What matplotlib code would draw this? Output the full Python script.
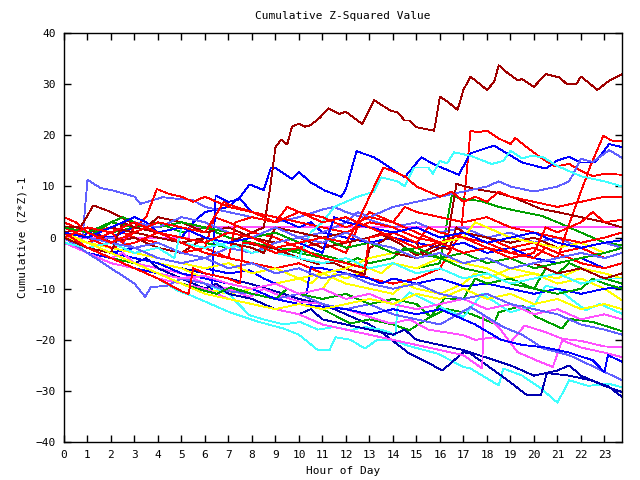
import matplotlib
matplotlib.use("Agg")
import matplotlib.pyplot as plt

# each series: (hour, cumulative value) breakpoints
dkred_1 = [(0,1),(1,2),(2,-1),(3,0),(4,-2),(5,-3),(6,0),(7,-1),(8,1),(8.5,2),(8.75,9),(9,17.7),(9.25,19.2),(9.5,18.2),(9.7,21.7),(10,22.3),(10.25,21.7),(10.5,22),(10.9,23.5),(11.25,25.3),(11.7,24.2),(12,24.6),(12.7,22.2),(13.2,26.9),(13.9,24.8),(14.2,24.5),(14.5,22.9),(14.7,22.9),(15,21.6),(15.75,20.9),(16,27.6),(16.4,26.3),(16.75,25),(17,28.9),(17.3,31.5),(18,28.9),(18.3,30.4),(18.5,33.7),(18.85,32.3),(19.3,30.8),(19.5,31),(20,29.5),(20.5,32),(21.1,31.3),(21.4,30),(21.8,30),(22,31.5),(22.7,28.9),(23.2,30.7),(23.75,32)]
dkred_2 = [(0,2),(0.7,2),(1.25,6.3),(2,5),(2.7,3.3),(3.5,2),(4,4),(5,3),(6,1),(7,2),(8,0),(9,-1),(10,0),(11,-2),(12,-1),(13,0),(13.45,0.7),(14.3,-1.2),(15,-3.5),(15.7,-1.9),(16.3,-0.9),(16.7,10.5),(17.5,9.5),(18.3,8.9),(19.1,7.9),(20.3,5.6),(21,5),(22,4),(23,3),(23.75,2)]
dkred_3 = [(0,1),(1,0),(2,2),(3,1),(4,0),(5,-1),(6,0),(7,-2),(7.9,-1.2),(9,-2.2),(10,-4),(10.75,-5.1),(11.5,-5),(12.2,-6.4),(12.8,-7.1),(13,-2),(13.6,-0.6),(14,1),(15,-1),(15.3,-3.5),(16,-2),(16.4,-2.2),(16.7,2),(17,1),(18,0),(19,-1),(20,0),(21,-2),(22,-1),(23,-3),(23.75,-2)]
dkred_4 = [(0,0),(0.5,-1),(1,-2),(2,-3),(2.5,3),(3,2),(4,1),(5,2),(6,0),(7,-1),(8,-2),(8.5,-3),(9,2),(10,1),(11,0),(12,1),(13,-1),(14,-3),(15,-4),(16,-3),(17,-5),(18,-4),(19,-6),(20,-5),(21,-7),(22,-6),(23,-8),(23.75,-7)]

red_1 = [(0,3),(0.5,2),(1,1),(2,2),(3,0),(4,-1),(5,-3),(6,-2),(7,-4),(8,-5),(9,-6),(10,-5),(11,-7),(12,-6),(13,-8),(14,-9),(15,-8),(16,-6),(16.9,1),(17.3,20.9),(17.6,20.6),(18,20.9),(18.5,19.4),(19,18.3),(19.2,19.5),(19.8,17.3),(20.3,15.6),(20.9,13.9),(21.5,14.4),(22,13.1),(22.5,12),(23,12.5),(23.75,12.3)]
red_2 = [(0,1),(1,-1),(2,0),(3,-2),(4,-1),(5,-3),(6,-2),(6.4,4),(7,3),(8,1),(9,0),(10,-2),(11,-1),(12,-3),(12.6,3),(13,5),(14,3),(15,1),(16,-1),(17,0),(18,-2),(19,-3),(20,-2),(21,-4),(21.6,4),(22,9),(22.4,14),(22.95,19.9),(23.3,19),(23.75,18.8)]
red_3 = [(0,0),(1,-1),(2,1),(2.5,-1),(3,2),(3.5,4),(3.95,9.5),(4.5,8.5),(5,8),(5.5,7),(6,8),(7,6),(8,5),(9,4),(10,3),(11,2),(12,1),(13,3),(14,2),(15,0),(16,-1),(17,1),(18,0),(19,-2),(20,-1),(21,-3),(22,-2),(23,-4),(23.75,-3)]
red_4 = [(0,2),(1,0),(2,-2),(3,-1),(4,1),(5,-1),(6,-3),(7,-4),(7.3,3),(8,4),(9,3),(10,5),(11,4),(12,2),(13,4),(14,3),(14.5,6),(15,5),(16,4),(17,3),(18,4),(19,2),(20,1),(21,0),(22,-1),(23,0),(23.75,1)]
red_5 = [(0,1),(1,-2),(2,-4),(3,-6),(4,-8),(5,-10.5),(5.3,-11),(5.5,-6),(6,-7),(7,-8),(7.5,-9),(7.6,-1),(8,-1),(9,-3),(10,-2),(11,-4),(12,-5),(12.8,-6),(13,0),(14,1),(15,-1),(15.5,2),(16,1),(17,0),(18,-1),(19,-3),(20,-4),(20.5,-2),(21,-3),(22,-5),(23,-6),(23.75,-5)]
red_6 = [(0,4),(0.5,3),(1,1),(2,-1),(3,1),(4,3),(5,2),(6,1),(6.8,7),(7,6.5),(8,5),(9,3),(9.5,6),(10,5),(11,3),(12,4),(13,2),(14,0),(15,-2),(16,-1),(17,-3),(18,-2),(19,-4),(20,-3),(20.5,2),(21,1),(22,3),(22.5,5),(23,3),(23.75,3.5)]
red_7 = [(0,0),(1,2),(2,1),(3,3),(4,1),(5,0),(6,-1),(7,1),(8,0),(9,-2),(10,-1),(11,0),(12,-1),(12.5,3),(13,8),(13.3,11),(13.6,13.7),(14,13),(14.5,12),(15,10),(15.5,9),(16,8),(16.5,9),(17,7),(17.5,8),(18,7),(18.5,9),(19,8),(20,7),(21,6),(22,7),(23,8),(23.75,8)]

green_1 = [(0,0),(1,-1),(2,1),(3,2),(4,3),(5,1),(6,2),(7,0),(8,-1),(9,-2),(10,-3),(11,-4),(12,-5),(13,-6),(14,-5),(15,-6),(16,-5),(16.3,3),(16.5,8.2),(17,7.5),(17.7,7.2),(18.5,6),(19.5,5),(20.3,4.3),(21,3),(22,1),(23,-1),(23.75,-1.5)]
green_2 = [(0,-1),(1,-3),(2,-4),(3,-5),(4,-7),(5,-8),(6,-9),(7,-10),(8,-11),(9,-12),(10,-13),(11,-14),(12.2,-16.8),(13,-16),(14,-17),(14.7,-18.1),(15.6,-15.5),(16.3,-14),(17.3,-14.9),(18.3,-16.8),(18.5,-14.6),(19.5,-13.3),(20.1,-15.5),(21.2,-17.8),(21.5,-15.9),(22.5,-16.5),(23.75,-18.3)]
green_3 = [(0,1),(1,0),(2,3),(3,2),(4,1),(5,0),(6,-1),(7,-2),(8,-1),(9,-2),(10,-2.5),(10.75,-3.2),(11.5,-4),(12,-5),(12.5,-4),(13,-5),(14,-4),(14.5,-2),(15,-3),(16,-4),(17,-6),(18,-7),(19,-9),(20,-10),(20.5,-6),(21,-7),(21.5,-5),(22,-6),(23,-8),(23.75,-9)]
green_4 = [(0,0),(1,-2),(2,-3),(3,-5),(4,-7),(5,-9),(5.9,-10.3),(6.5,-11),(7.1,-9.7),(8,-11),(9,-12),(9.5,-10),(10,-11),(11,-12),(12,-11),(13,-13),(14,-12),(15,-13),(15.6,-15.5),(16.2,-11.9),(17,-12),(17.5,-8),(18,-9),(19,-8),(20,-10),(21,-11),(22,-10),(22.5,-8),(23,-9),(23.75,-10)]
green_5 = [(0,2),(1,1),(2,3),(2.5,4),(3,3),(4,2),(5,3),(6,2),(7,1),(8,0),(9,1),(10,-1),(11,0),(12,-2),(13,-1),(14,-3),(15,-2),(16,-4),(17,-3),(18,-5),(19,-4),(20,-6),(21,-5),(22,-4),(23,-3),(23.75,-2)]

blue_1 = [(0,0),(0.5,-1),(1,1),(2,0),(3,2),(4,1),(5,0),(5.5,3),(6,5),(7,6),(7.5,8),(7.9,10.4),(8.5,9.3),(8.8,13.6),(9,13.6),(9.7,11.5),(10,12.8),(10.5,10.8),(11.1,9.2),(11.8,8),(12,9.5),(12.45,16.9),(13.2,15.7),(14.5,11.8),(15.2,15.7),(15.8,14.2),(16.8,12.3),(17.3,16.5),(18.3,18),(19.5,14.7),(20.5,13.5),(21,15.1),(21.5,15.8),(22,14.7),(22.6,14.7),(23.2,18.3),(23.75,17.7)]
blue_2 = [(0,-1),(1,-3),(2,-4),(3,-6),(4,-7),(5,-8),(6,-9),(6.3,-10),(6.45,8.2),(7,7),(7.5,7.5),(8,5),(9,4),(10,2),(10.5,3),(11,1),(12,0),(13,-1),(14,0),(15,-1),(16,-2),(17,-1),(18,-3),(19,-2),(20,-4),(21,-5),(22,-4),(23,-6),(23.75,-5)]
blue_3 = [(0,0),(1,-1),(2,-3),(3,-2),(4,-4),(5,-5),(6,-6),(7,-7),(7.9,-6.4),(8.5,-8),(9,-9),(9.5,-10),(10.3,-11.6),(10.5,-5.8),(11,-6),(12,-7),(13,-8),(13.5,-9),(14,-8),(15,-9),(16,-8),(17,-9.5),(18,-9),(19,-10),(20,-11),(21,-10),(22,-11),(23,-10),(23.75,-9.7)]
blue_4 = [(0,0),(1,-2),(2,-3),(3,-4),(4,-5),(5,-7),(6,-8),(7,-9),(8,-10),(9,-12),(10,-13),(11,-13.5),(12,-14),(13,-15),(14,-14),(15,-15),(16,-14),(17,-16),(17.5,-17),(18.6,-20),(19.5,-21),(20.5,-21.5),(21.5,-22.5),(22.5,-24),(23,-26.3),(23.15,-23),(23.75,-24.3)]
blue_5 = [(0,1),(1,0),(2,2),(3,4),(3.5,3),(4,1),(5,2),(6,0),(7,-1),(8,0),(9,-2),(10,-1),(11,-3),(11.5,4),(12,3),(13,2),(14,1),(15,2),(16,0),(17,1),(18,-1),(19,0),(20,1),(21,-1),(22,-2),(23,-1),(23.75,-0.5)]
navy_1 = [(0,0),(1,-2),(2,-3),(3,-4),(4,-5),(5,-6),(6,-7),(7,-8),(7.9,-9),(9,-10.5),(10,-12),(11,-13),(12,-15),(13,-17),(13.6,-18.8),(14.7,-22.7),(15.5,-24.5),(16.1,-26),(16.6,-24),(17,-22.4),(17.3,-22.7),(18,-25),(18.7,-27.3),(19.7,-30.8),(20.3,-30.8),(20.55,-26.5),(21.5,-27),(22.5,-28),(23.2,-29.2),(23.75,-31.2)]
navy_2 = [(0,0),(1,-1),(2,-3),(3,-5),(3.5,-4),(4,-6),(5,-8),(6,-10),(6.5,-9),(7,-11),(8,-12),(9,-14),(10,-15),(10.5,-14),(11,-16),(12,-17),(13,-18),(14,-19),(14.5,-18),(15,-20),(16,-21),(17,-22),(18,-23.5),(19,-25),(20,-27),(21,-26),(21.5,-25),(22,-27),(23,-29),(23.75,-30.2)]

ltblue_1 = [(0,-1),(0.75,-2),(1,11.3),(1.55,9.7),(2.1,9.2),(3,8),(3.25,6.6),(4.2,7.9),(5,7.5),(5.45,7.4),(6,6),(7,5),(8,4),(9,3),(10,4),(11,5.5),(11.5,6),(12,5),(13,3.5),(14,2),(15,3),(16,1),(17,2),(18,0),(19,1),(20,-1),(21,0),(22,-2),(23,-1),(23.75,-2)]
ltblue_2 = [(0,0),(1,-1),(2,0),(3,-2),(4,-1),(5,-3),(6,-4),(7,-2),(8,-3),(9,-1),(10,0),(11,1),(12,3),(12.5,5),(13,4),(14,6),(15,7),(16,8),(17,9),(18,10),(18.5,11),(19,10),(20,9),(21,10),(21.5,11),(22,15.4),(22.5,14.8),(23.2,17.1),(23.75,15.6)]
ltblue_3 = [(0,0),(1,-3),(2,-6),(3,-9),(3.45,-11.6),(3.7,-9.7),(4.4,-9.4),(5,-8),(6,-9),(7,-10.5),(8,-11),(9,-12),(10,-11),(11,-13),(12,-14),(13,-13),(14,-15),(15,-16),(16,-17),(17.3,-13.6),(18.7,-17.5),(19.5,-19),(20.4,-21.7),(21.5,-23),(22.7,-25.6),(23.75,-27.9)]
ltblue_4 = [(0,1),(1,0),(2,-1),(3,-2),(4,-4),(5,-5),(6,-4),(7,-6),(8,-5),(9,-7),(10,-6),(11,-8),(12,-7),(13,-9),(14,-10),(15,-9),(16,-11),(17,-12),(18,-11),(19,-13),(20,-14),(21,-15),(22,-17),(23,-18),(23.75,-19)]
ltblue_5 = [(0,0),(1,2),(2,1),(3,3),(4,2),(5,4),(6,3),(7,1),(8,0),(9,2),(10,0),(11,-1),(12,1),(13,-1),(14,-2),(15,-4),(16,-3),(17,-5),(18,-4),(19,-6),(20,-5),(21,-4),(22,-3),(23,-4),(23.75,-3)]

magenta_1 = [(0,0),(5.3,0),(5.35,2.1),(23.75,2.1)]
magenta_2 = [(0,0),(1,-2),(2,-3),(3,-5),(4,-6),(5,-7),(6,-9),(7,-10),(7.9,-11.6),(8.5,-10),(9,-11),(10,-12.5),(11,-13),(12,-14),(13,-15.5),(13.9,-16.8),(14.7,-16),(15.5,-18),(16.2,-18.5),(17,-19.1),(17.5,-20),(18.3,-19.5),(19,-20.5),(19.6,-17.2),(20.5,-18.5),(21.2,-19.8),(22,-20.2),(23,-21.3),(23.75,-21.4)]
magenta_3 = [(0,-1),(1,-3),(2,-5),(3,-6),(4,-8),(5,-9),(6,-10),(7,-12),(8,-13),(9,-14),(10,-15),(11,-17),(12,-18),(13,-19),(14,-20),(15,-21),(16,-22),(17,-23),(17.3,-24),(17.8,-25.6),(17.85,-15.1),(18.5,-17.5),(19.3,-22.4),(20.1,-24),(20.8,-25.3),(21.2,-20.1),(22,-21.5),(23,-22.5),(23.75,-23.4)]
magenta_4 = [(0,0),(1,-2),(2,-4),(2.5,-3),(3,-5),(4,-7),(5,-8),(6,-7.5),(7,-9),(8,-10),(9,-9),(10,-11),(11,-10),(12,-12),(13,-11),(14,-13),(15,-14),(16,-13),(17,-12),(18,-14),(19,-13),(20,-15),(21,-14),(22,-16),(23,-15),(23.75,-16)]

cyan_1 = [(0,0),(1,-2),(2,-4),(3,-6),(4,-8),(4.8,-10.3),(5.5,-11.5),(6.2,-12.9),(7,-14.5),(7.9,-15.9),(8.3,-16.5),(9.35,-17.8),(10,-19),(10.8,-22),(11.3,-22),(11.55,-19.5),(12.2,-20),(12.8,-21.7),(13.3,-20.1),(14,-20),(14.6,-21.1),(15.9,-22.7),(17,-25.3),(17.3,-25.6),(18.5,-28.9),(18.7,-25.6),(19.5,-27),(20.3,-29.5),(21,-32.3),(21.5,-27.9),(22.3,-29),(23.2,-28.6),(23.75,-29.3)]
cyan_2 = [(0,0),(1,-1),(2,-3),(3,-5),(4,-7),(5,-8),(6,-9),(7,-11),(7.9,-15.2),(8.5,-16),(9.35,-17),(10.05,-16.5),(10.8,-18),(11.5,-17.5),(12.2,-18.1),(12.8,-17.5),(13.5,-18),(14.1,-19),(14.2,-13.3),(14.7,-10.7),(15.5,-12.5),(16.2,-14),(17,-15.5),(17.8,-11),(19,-14.6),(20,-13.3),(20.5,-9.4),(21,-10),(22.2,-14.2),(22.8,-13),(23.75,-14.9)]
cyan_3 = [(0,1),(1,0),(2,-1),(3,1),(4,0),(5,-1),(6,-2),(7,-1),(8,-3),(9,-2),(10,-4),(10.5,1),(11,3),(11.5,6),(12,7),(12.5,8),(13.2,9),(13.5,11.8),(14.2,11),(14.5,10),(14.9,13.7),(15.5,13.7),(15.7,12.5),(16,15),(16.3,14.5),(16.6,16.7),(17.3,16),(18.2,14.4),(18.7,15),(19,17),(19.5,15.5),(19.9,16),(20.4,15.7),(21,14),(21.5,13),(22,12),(23,11),(23.75,10)]
cyan_4 = [(0,-1),(1,-2),(2,-1),(3,-3),(4,-2),(4.7,-4),(5,2),(5.5,1),(6,0),(7,-2),(8,-1),(9,-3),(10,-4),(11,-5),(12,-4),(13,-6),(14,-5),(15,-7),(16,-6),(17,-8),(18,-7),(19,-9),(20,-8),(21,-7),(22,-9),(23,-8),(23.75,-8)]

yellow_1 = [(0,-1),(1,-3),(2,-4),(3,-6),(4,-7),(5,-9),(6,-10),(7,-11),(8,-10),(9,-12),(10,-11),(11,-10),(11.5,-7),(12,-8),(13,-6),(13.5,-7),(14,-5),(15,-6),(16,-4),(17,-5),(18,-6),(19,-8),(20,-7),(21,-9),(22,-8),(23,-10),(23.75,-12.3)]
yellow_2 = [(0,0),(1,-2),(2,-3),(3,-4),(4,-5),(5,-6),(6,-8),(7,-9),(8,-10),(9,-9),(10,-8),(10.5,-9),(11,-7),(12,-9),(13,-10),(14,-11),(14.5,-9),(15,-10),(16,-11),(17,-9),(17.5,-7),(18,-8),(19,-6),(20,-7),(21,-8),(22,-6),(23,-7),(23.75,-8)]
yellow_3 = [(0,0),(1,-1),(2,-2),(3,-3),(4,-4),(5,-5),(6,-6),(7,-5),(8,-7),(9,-6),(10,-8),(11,-7),(12,-6),(13,-4),(14,-3),(15,-2),(16,-1),(17,0),(17.5,3),(18,2),(19,0),(20,-1),(21,-2),(22,-1),(23,-3),(23.75,-2)]
yellow_4 = [(0,1),(1,-1),(2,-3),(3,-5),(4,-7),(5,-9),(6,-11),(7,-12),(8,-13),(9,-14),(10,-13),(11,-14),(12,-13),(13,-12),(14,-13),(15,-11),(16,-12),(17,-10),(18,-12),(19,-11),(20,-13),(21,-12),(22,-14),(23,-13),(23.75,-14)]

RED = "#ff0000"
GREEN = "#00a000"
BLUE = "#0000ff"
MAGENTA = "#ff50ff"
CYAN = "#40ffff"
DKRED = "#a00000"
LTBLUE = "#6060ff"
NAVY = "#0000b0"
YELLOW = "#ffff00"

series = [
    (red_1, RED), (green_1, GREEN), (blue_1, BLUE), (magenta_1, MAGENTA), (cyan_1, CYAN),
    (dkred_1, DKRED), (yellow_1, YELLOW), (ltblue_1, LTBLUE), (navy_1, NAVY),
    (red_2, RED), (green_2, GREEN), (blue_2, BLUE), (magenta_2, MAGENTA), (cyan_2, CYAN),
    (dkred_2, DKRED), (yellow_2, YELLOW), (ltblue_2, LTBLUE), (navy_2, NAVY),
    (red_3, RED), (green_3, GREEN), (blue_3, BLUE), (magenta_3, MAGENTA), (cyan_3, CYAN),
    (dkred_3, DKRED), (yellow_3, YELLOW), (ltblue_3, LTBLUE),
    (red_4, RED), (green_4, GREEN), (blue_4, BLUE), (magenta_4, MAGENTA), (cyan_4, CYAN),
    (dkred_4, DKRED), (yellow_4, YELLOW), (ltblue_4, LTBLUE),
    (red_5, RED), (green_5, GREEN), (blue_5, BLUE), (ltblue_5, LTBLUE),
    (red_6, RED), (red_7, RED),
]

hour_ticks = list(range(24))
value_ticks = [-40, -30, -20, -10, 0, 10, 20, 30, 40]

plt.rcParams['font.family'] = ['DejaVu Sans Mono']
fig = plt.figure(figsize=(6.4, 4.8), dpi=100)
ax = fig.add_axes([0.1, 0.079, 0.872, 0.852])

for pts, col in series:
    xs = [p[0] for p in pts]
    ys = [p[1] for p in pts]
    ax.plot(xs, ys, color=col, lw=0.6, antialiased=False)

ax.set_xlim(0, 23.75)
ax.set_ylim(-40, 40)
ax.set_xticks(hour_ticks)
ax.set_yticks(value_ticks)
ax.tick_params(direction='in', length=5, width=1, top=True, right=True,
               labelsize=8, pad=6)
for s in ax.spines.values():
    s.set_linewidth(1)

ax.set_title("Cumulative Z-Squared Value", fontsize=8, pad=10)
ax.set_xlabel("Hour of Day", fontsize=8, labelpad=4)
ax.set_ylabel("Cumulative (Z*Z)-1", fontsize=8, labelpad=6)

fig.savefig("out.png", dpi=100)
